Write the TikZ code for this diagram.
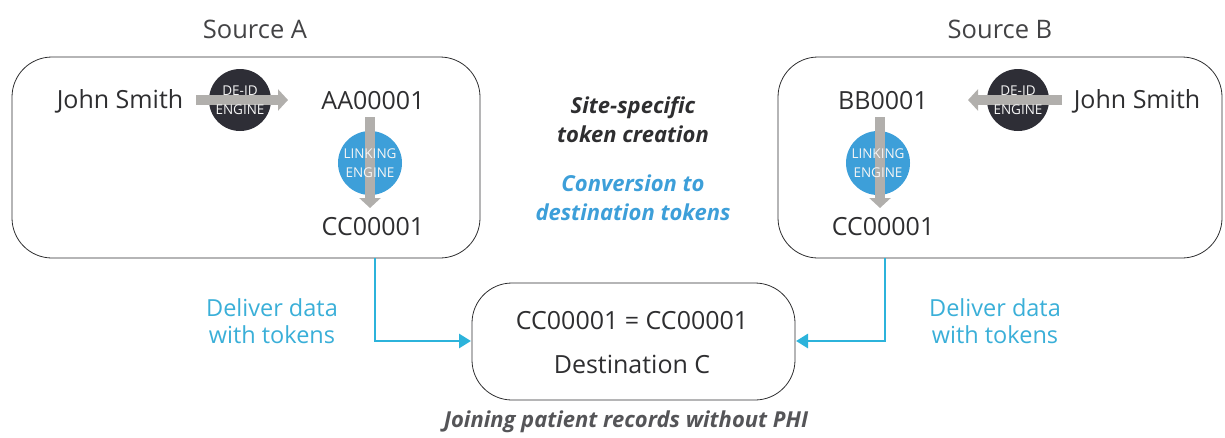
\documentclass[tikz,border=0pt]{standalone}
\usepackage{fontspec}
\setmainfont{Open Sans}
\usetikzlibrary{arrows.meta}
\definecolor{ink}{HTML}{2E2E30}
\definecolor{deid}{HTML}{2E2E36}
\definecolor{linkblue}{HTML}{3D9FD9}
\definecolor{pipe}{HTML}{B1AFAC}
\definecolor{flow}{HTML}{2CB3DB}
\definecolor{flowtext}{HTML}{3AAFD8}
\definecolor{notegray}{HTML}{555558}
\tikzset{
  site/.style={draw=ink, line width=0.8pt, rounded corners=40pt},
  label/.style={text=ink, font=\fontsize{25}{27}\selectfont, inner sep=0pt},
  heading/.style={text=ink!90, font=\fontsize{25.5}{27}\selectfont, inner sep=0pt},
  engine/.style={circle, minimum size=#1, inner sep=0pt},
  enginetext/.style={text=white!92!gray, font=\fontsize{13.5}{19}\selectfont, align=center, inner sep=0pt},
  pipearrow/.style={pipe, line width=10pt, -{Triangle[length=10pt,width=21pt]}},
  flowarrow/.style={flow, line width=2.8pt, -{Triangle[length=12pt,width=14pt]}},
  flowlabel/.style={text=flowtext, font=\fontsize{23.5}{27}\selectfont, align=center, inner sep=0pt},
  note/.style={font=\bfseries\itshape\fontsize{22}{29}\selectfont, align=center, inner sep=0pt},
}
\begin{document}
\begin{tikzpicture}[x=1pt,y=-1pt]
\useasboundingbox (0,0) rectangle (1225,437);

% site and destination boxes
\draw[site] (12,57) rectangle (480,258);
\draw[site] (778,57) rectangle (1222,258);
\draw[site] (472,283) rectangle (795,400);

% source A
\node[heading] (srcA) at (255,29) {Source A};
\node[label] (jsA) at (120,101) {John Smith};
\node[label] (aaA) at (373,101) {AA00001};
\node[label] (ccA) at (373,227) {CC00001};
\node[engine=62pt, fill=deid] (deA) at (240,100) {};
\node[engine=64pt, fill=linkblue] (lkA) at (370,163) {};
\coordinate (deAin) at (196,100);
\coordinate (deAout) at (288,100);
\coordinate (lkAin) at (370,117);
\coordinate (lkAout) at (370,208);
\draw[pipearrow] (deAin) -- (deAout);
\draw[pipearrow] (lkAin) -- (lkAout);
\node[enginetext] at (deA) {DE-ID\\ENGINE};
\node[enginetext] at (lkA) {LINKING\\ENGINE};

% source B
\node[heading] (srcB) at (1000,29) {Source B};
\node[label] (jsB) at (1137,101) {John Smith};
\node[label] (bbB) at (883,101) {BB0001};
\node[label] (ccB) at (883,227) {CC00001};
\node[engine=62pt, fill=deid] (deB) at (1018,100) {};
\node[engine=64pt, fill=linkblue] (lkB) at (878,163) {};
\coordinate (deBin) at (1062,100);
\coordinate (deBout) at (968,100);
\coordinate (lkBin) at (880,117);
\coordinate (lkBout) at (880,208);
\draw[pipearrow] (deBin) -- (deBout);
\draw[pipearrow] (lkBin) -- (lkBout);
\node[enginetext] at (deB) {DE-ID\\ENGINE};
\node[enginetext] at (lkB) {LINKING\\ENGINE};

% middle notes
\node[note, text=ink] (site) at (633,120) {Site-specific\\token creation};
\node[note, text=linkblue] (conv) at (633,198) {Conversion to\\destination tokens};

% destination
\node[label] (eq) at (632,321) {CC00001 = CC00001};
\node[label] (dest) at (632,364) {Destination C};
\node[note, text=notegray] (join) at (626,422) {Joining patient records without PHI};

% delivery connectors
\coordinate (outA) at (375,258);
\coordinate (inA) at (471,341);
\coordinate (outB) at (885,258);
\coordinate (inB) at (796,341);
\draw[flowarrow] (outA) |- (inA);
\draw[flowarrow] (outB) |- (inB);
\node[flowlabel] (delA) at (272,321) {Deliver data\\with tokens};
\node[flowlabel] (delB) at (995,321) {Deliver data\\with tokens};
\end{tikzpicture}
\end{document}
